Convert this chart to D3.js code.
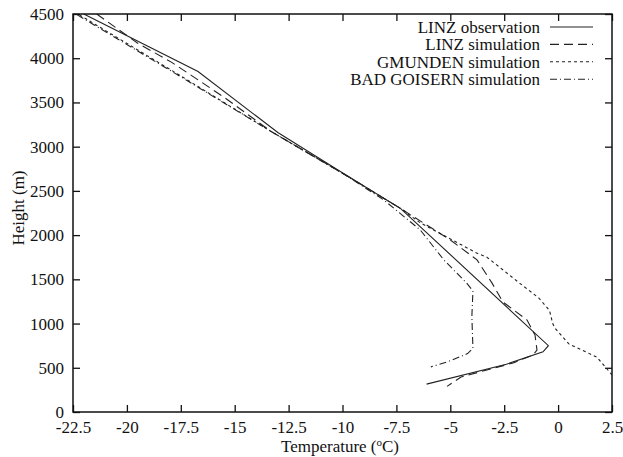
<!DOCTYPE html>
<html>
<head>
<meta charset="utf-8">
<script src="https://cdn.jsdelivr.net/npm/d3@7"></script>
<style>
  body { margin: 0; background: #fff; }
  svg text { font-family: "Liberation Serif", "DejaVu Serif", serif; fill: #111; }
</style>
</head>
<body>
<div class="chartContainer"></div>
<script>
// temperature (C) / height (m) profiles
var linzObsT = [-22.0, -16.7, -13.0, -10.1, -7.3, -0.45, -0.7, -2.4, -6.1];
var linzObsH = [4500, 3850, 3160, 2720, 2300, 750, 680, 540, 315];

var linzSimT = [-21.4, -19.5, -17.9, -15.5, -13.3, -10.0, -7.3, -5.0, -3.76, -3.07, -2.56, -1.44, -1.07, -0.98, -1.16, -2.09, -4.5, -5.15];
var linzSimH = [4500, 4170, 3950, 3560, 3170, 2700, 2300, 1945, 1720, 1460, 1244, 1040, 870, 700, 644, 554, 396, 290];

var gmundenT = [-22.2, -17.5, -13.3, -10.0, -7.3, -6.4, -3.8, -3.3, -1.8, -0.9, -0.4, -0.25, -0.15, 0.5, 1.8, 2.5];
var gmundenH = [4490, 3800, 3170, 2700, 2300, 2140, 1800, 1750, 1460, 1290, 1150, 1000, 950, 770, 620, 420];

var goisernT = [-22.3, -17.5, -13.3, -10.0, -8.1, -6.4, -5.3, -4.25, -3.95, -4.0, -3.95, -4.2, -5.1, -5.9];
var goisernH = [4490, 3790, 3170, 2700, 2400, 2060, 1720, 1460, 1370, 1080, 720, 660, 570, 510];

var seriesNames = ["LINZ observation", "LINZ simulation", "GMUNDEN simulation", "BAD GOISERN simulation"];
var dashStyles = ["none", "9,5", "3,3", "7,3,1,3"];

var xTicks = [-22.5, -20, -17.5, -15, -12.5, -10, -7.5, -5, -2.5, 0, 2.5];
var yTicks = [0, 500, 1000, 1500, 2000, 2500, 3000, 3500, 4000, 4500];

function zipSeries(ts, hs){
    return ts.map(function(t, i){ return {t: t, h: hs[i]}; });
}
var allSeries = [
    zipSeries(linzObsT, linzObsH),
    zipSeries(linzSimT, linzSimH),
    zipSeries(gmundenT, gmundenH),
    zipSeries(goisernT, goisernH)
];

drawChart();

function drawChart(){
    var width = 623,
        height = 457;
    var left = 73, right = 612, top = 14, bottom = 412;

    var svg = d3.select("div.chartContainer")
        .append("svg")
        .attr("width", width)
        .attr("height", height);

    var x = d3.scaleLinear().domain([-22.5, 2.5]).range([left, right]);
    var y = d3.scaleLinear().domain([0, 4500]).range([bottom, top]);

    var fmt = function(d){ return String(d).replace("\u2212", "-"); };

    //bottom axis, ticks pointing inward
    svg.append("g")
        .attr("transform", "translate(0," + bottom + ")")
        .call(d3.axisBottom(x).tickValues(xTicks).tickFormat(fmt)
            .tickSizeInner(-7).tickSizeOuter(0).tickPadding(9));
    //left axis
    svg.append("g")
        .attr("transform", "translate(" + left + ",0)")
        .call(d3.axisLeft(y).tickValues(yTicks).tickFormat(fmt)
            .tickSizeInner(-7).tickSizeOuter(0).tickPadding(9));
    //mirrored ticks on top and right
    svg.append("g")
        .attr("transform", "translate(0," + top + ")")
        .call(d3.axisTop(x).tickValues(xTicks).tickFormat("")
            .tickSizeInner(-7).tickSizeOuter(0));
    svg.append("g")
        .attr("transform", "translate(" + right + ",0)")
        .call(d3.axisRight(y).tickValues(yTicks).tickFormat("")
            .tickSizeInner(-7).tickSizeOuter(0));

    svg.selectAll(".domain").remove();
    svg.selectAll(".tick line").attr("stroke", "#111").attr("stroke-width", 1.3);
    svg.selectAll(".tick text").attr("font-size", "17px").style("font-family", "Liberation Serif");

    //clip lines to plot frame
    svg.append("clipPath").attr("id", "plotClip")
        .append("rect")
        .attr("x", left).attr("y", top)
        .attr("width", right - left).attr("height", bottom - top);

    var line = d3.line()
        .x(function(d){ return x(d.t); })
        .y(function(d){ return y(d.h); });

    svg.append("g")
        .attr("clip-path", "url(#plotClip)")
        .selectAll("path.profile")
        .data(allSeries)
        .enter()
        .append("path")
        .attr("class", "profile")
        .attr("d", line)
        .attr("fill", "none")
        .attr("stroke", "#222")
        .attr("stroke-width", 1.1)
        .attr("stroke-dasharray", function(d, i){ return dashStyles[i]; });

    //frame
    svg.append("rect")
        .attr("x", left).attr("y", top)
        .attr("width", right - left).attr("height", bottom - top)
        .attr("fill", "none")
        .attr("stroke", "#111")
        .attr("stroke-width", 1.5);

    //legend
    var legend = svg.append("g").attr("class", "legend");
    seriesNames.forEach(function(name, i){
        var ly = 27 + i * 17.4;
        legend.append("text")
            .attr("x", 540).attr("y", ly)
            .attr("dy", "0.35em")
            .attr("text-anchor", "end")
            .attr("font-size", "17px")
            .text(name);
        legend.append("line")
            .attr("x1", 550).attr("x2", 593)
            .attr("y1", ly).attr("y2", ly)
            .attr("stroke", "#222")
            .attr("stroke-width", 1.1)
            .attr("stroke-dasharray", dashStyles[i]);
    });

    //axis titles
    var xTitle = svg.append("text")
        .attr("x", 340).attr("y", 452)
        .attr("text-anchor", "middle")
        .attr("font-size", "17px");
    xTitle.append("tspan").text("Temperature (");
    xTitle.append("tspan").attr("font-size", "11px").attr("dy", "-6").text("o");
    xTitle.append("tspan").attr("dy", "6").text("C)");

    svg.append("text")
        .attr("transform", "translate(24,208) rotate(-90)")
        .attr("text-anchor", "middle")
        .attr("font-size", "17px")
        .text("Height (m)");
}
</script>
</body>
</html>
